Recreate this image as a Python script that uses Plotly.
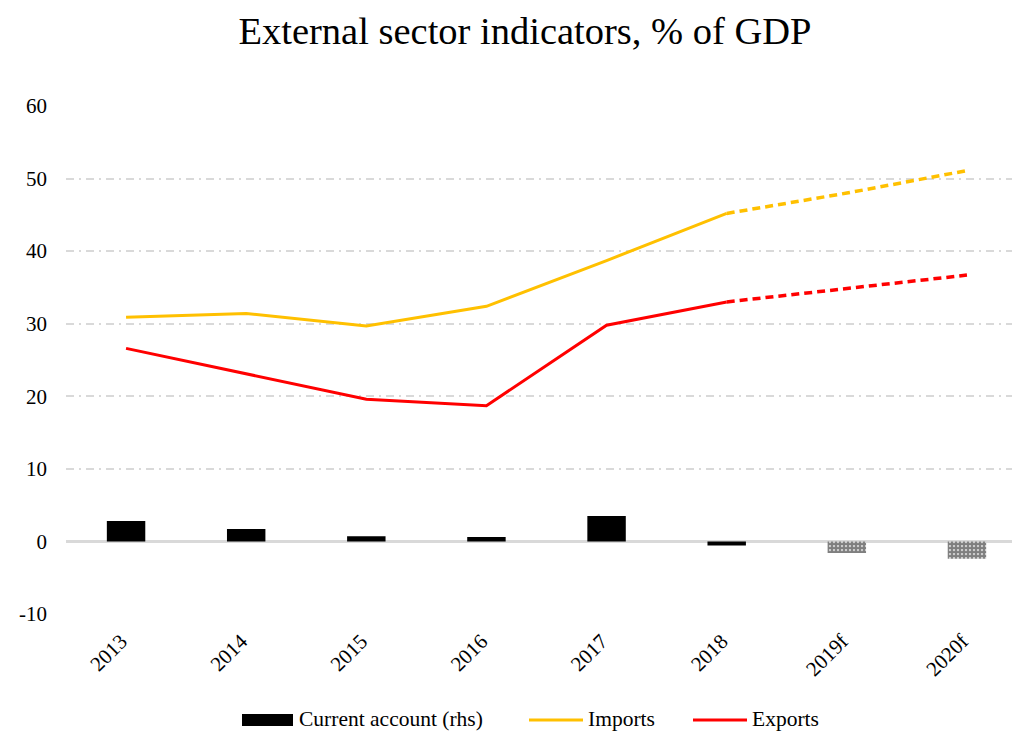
import plotly.graph_objects as go

# External sector indicators, % of GDP
years = ["2013", "2014", "2015", "2016", "2017", "2018", "2019f", "2020f"]
current_account = [2.8, 1.7, 0.7, 0.6, 3.5, -0.55, -1.6, -2.4]
imports = [30.9, 31.4, 29.7, 32.4, 38.7, 45.2, 48.0, 51.1]
exports = [26.6, 23.1, 19.6, 18.7, 29.8, 33.0, 34.9, 36.7]
forecast_from = 5  # index of last actual year (2018)

y_ticks = [-10, 0, 10, 20, 30, 40, 50, 60]
y_ticktext = ["-10", "0", "10", "20", "30", "40", "50", "60"]

SERIF = "Liberation Serif, DejaVu Serif, serif"
GOLD = "#FFC000"
RED = "#FF0000"
GRID = "#d9d9d9"

W, H = 1012, 732
L, R, T, B = 66, 0, 106, 118

fig = go.Figure()

# Current account bars: forecast years are drawn with a checkered pattern
pattern_shapes = ["" if i <= forecast_from else "." for i in range(len(years))]
fig.add_trace(go.Bar(
    x=years, y=current_account, name="Current account (rhs)",
    width=0.32, showlegend=False,
    marker=dict(
        color="black",
        line=dict(width=0),
        pattern=dict(shape=pattern_shapes, fgcolor="black", bgcolor="white",
                     size=4, solidity=0.8),
    ),
))

# Lines: solid for actuals, dashed for forecasts
for name, vals, color in [("Imports", imports, GOLD), ("Exports", exports, RED)]:
    fig.add_trace(go.Scatter(
        x=years[:forecast_from + 1], y=vals[:forecast_from + 1],
        mode="lines", name=name, showlegend=False,
        line=dict(color=color, width=3),
    ))
    fig.add_trace(go.Scatter(
        x=years[forecast_from:], y=vals[forecast_from:],
        mode="lines", name=name, showlegend=False,
        line=dict(color=color, width=3.5, dash="8px,5px"),
    ))


# Legend row below the plot, laid out in pixel units
def px_x(px):
    return (px - L) / (W - L - R)


def px_y(py):
    return (H - B - py) / (H - T - B)


legend_y = 720
shapes = [
    dict(type="rect", xref="paper", yref="paper",
         x0=px_x(242), x1=px_x(293), y0=px_y(726), y1=px_y(714),
         fillcolor="black", line=dict(width=0)),
    dict(type="line", xref="paper", yref="paper",
         x0=px_x(529), x1=px_x(583), y0=px_y(legend_y), y1=px_y(legend_y),
         line=dict(color=GOLD, width=3)),
    dict(type="line", xref="paper", yref="paper",
         x0=px_x(693), x1=px_x(747), y0=px_y(legend_y), y1=px_y(legend_y),
         line=dict(color=RED, width=3)),
]
annotations = [
    dict(text=txt, xref="paper", yref="paper", x=px_x(xl), y=px_y(legend_y - 1),
         xanchor="left", yanchor="middle", showarrow=False,
         font=dict(family=SERIF, size=21.5, color="black"))
    for txt, xl in [("Current account (rhs)", 297), ("Imports", 586), ("Exports", 750)]
]

fig.update_layout(
    width=W, height=H,
    paper_bgcolor="white", plot_bgcolor="white",
    margin=dict(l=L, r=R, t=T, b=B),
    title=dict(text="External sector indicators, % of GDP",
               xref="container", x=525 / W, xanchor="center",
               y=1 - 31 / H, yanchor="middle",
               font=dict(family=SERIF, size=38.5, color="black")),
    font=dict(family=SERIF, size=21, color="black"),
    showlegend=False,
    shapes=shapes,
    annotations=annotations,
)

fig.update_yaxes(
    range=[-10, 60], tickvals=y_ticks, ticktext=y_ticktext, showline=False,
    showgrid=True, gridcolor=GRID, gridwidth=1.5, griddash="8px,5px,2px,5px",
    zeroline=True, zerolinecolor=GRID, zerolinewidth=2.5,
    tickfont=dict(family=SERIF, size=21), ticks="", ticklabelstandoff=18,
    automargin=False,
)
fig.update_xaxes(
    range=[-0.5, 7.375],
    showgrid=False, showline=False, tickangle=-45, ticks="",
    tickfont=dict(family=SERIF, size=21), ticklabelstandoff=10,
    ticklabelshift=-5,
    automargin=False,
)

fig.write_html("out.html")
